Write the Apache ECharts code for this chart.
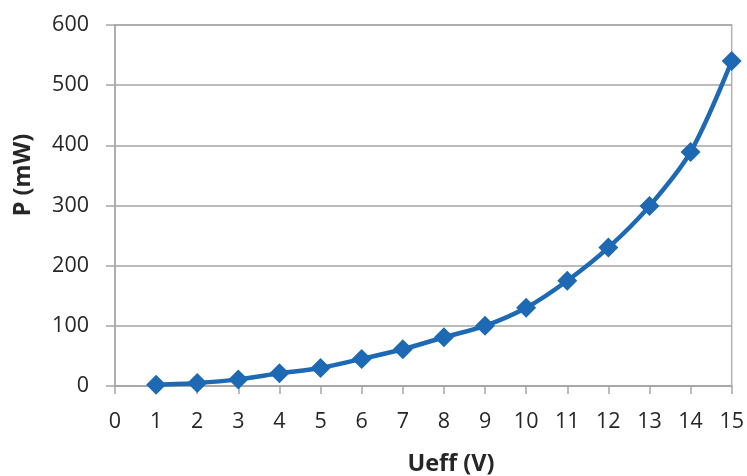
<!DOCTYPE html>
<html><head><meta charset="utf-8">
<script src="https://cdn.jsdelivr.net/npm/echarts@6/dist/echarts.min.js"></script>
<style>html,body{margin:0;padding:0;background:#fff}#c{width:747px;height:476px}</style>
</head><body><div id="c"></div>
<script>
const voltages = [1,2,3,4,5,6,7,8,9,10,11,12,13,14,15];
const power = [2,5,11,21,30,45,61,81,100,130,175,230,299,389,540];
const xTitle = 'Ueff (V)';
const yTitle = 'P (mW)';

const chart = echarts.init(document.getElementById('c'));
const font = '"Open Sans", "Liberation Sans", sans-serif';
chart.setOption({
  animation:false,
  grid:{left:115,right:15,top:25,bottom:90,show:true,borderColor:'#b3b3b3',borderWidth:1.5},
  graphic:[
    {type:'text',x:451,y:464,style:{text:xTitle,fontFamily:font,fontSize:23.5,fontWeight:'bold',fill:'#262626',align:'center',verticalAlign:'middle'}},
    {type:'text',x:23,y:175,rotation:Math.PI/2,style:{text:yTitle,fontFamily:font,fontSize:23.5,fontWeight:'bold',fill:'#262626',align:'center',verticalAlign:'middle'}}
  ],
  xAxis:{type:'value',min:0,max:15,interval:1,
    axisLine:{lineStyle:{color:'#a6a6a6',width:1.5}},
    axisTick:{show:true,length:8,lineStyle:{color:'#a6a6a6',width:1.5}},
    axisLabel:{fontFamily:font,fontSize:21.5,color:'#262626',margin:25},
    splitLine:{show:false}},
  yAxis:{type:'value',min:0,max:600,interval:100,
    axisLine:{show:true,lineStyle:{color:'#a6a6a6',width:1.5}},
    axisTick:{show:true,length:9,lineStyle:{color:'#a6a6a6',width:1.5}},
    axisLabel:{fontFamily:font,fontSize:21.5,color:'#262626',margin:26},
    splitLine:{show:true,lineStyle:{color:'#a6a6a6',width:1.5}}},
  series:[{type:'line',smooth:0.3,
    data:voltages.map((v,i)=>[v,power[i]]),
    symbol:'diamond',symbolSize:[20,20],
    lineStyle:{color:'#1e69b4',width:4.5},
    itemStyle:{color:'#1e69b4'}}]
});
</script></body></html>
